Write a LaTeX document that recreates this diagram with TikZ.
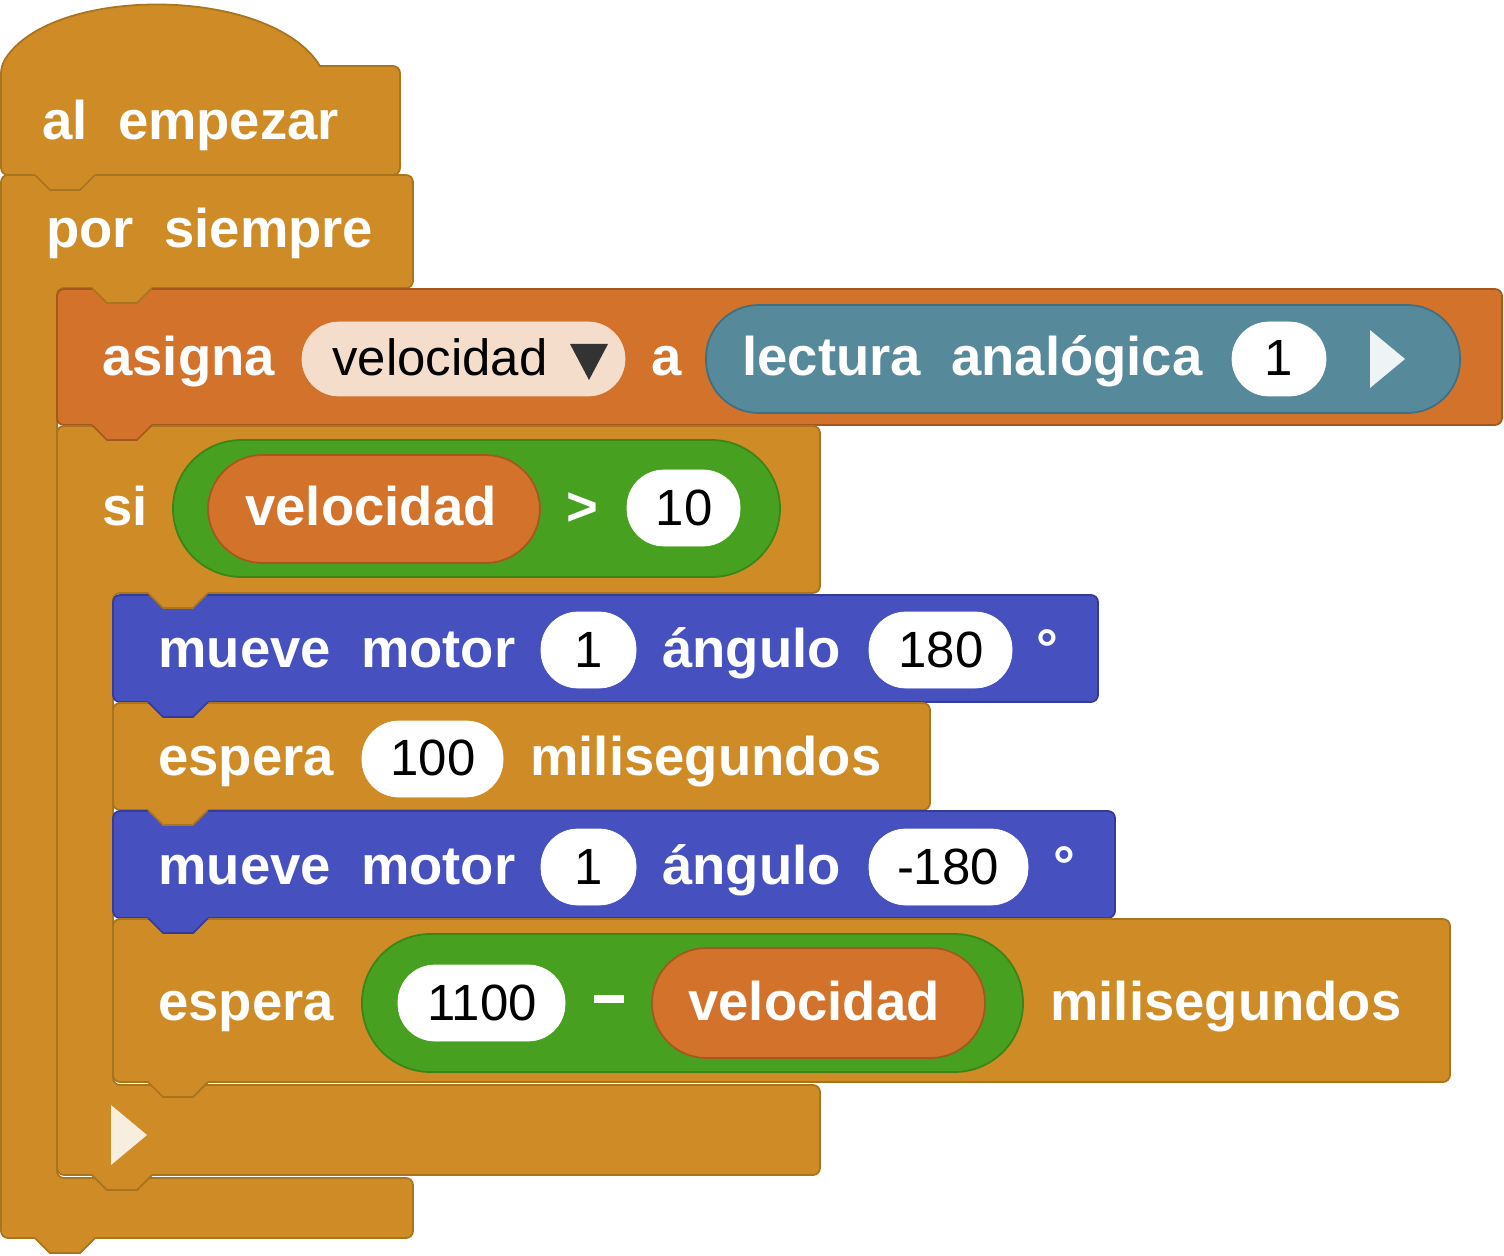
\documentclass[tikz,border=0pt]{standalone}
\usepackage{fontspec}
\setmainfont{Liberation Sans}
\definecolor{gold}{HTML}{CF8B26}\definecolor{goldB}{HTML}{A8741E}
\definecolor{org}{HTML}{D2722B}\definecolor{orgB}{HTML}{A5581E}
\definecolor{blu}{HTML}{4650BE}\definecolor{bluB}{HTML}{333C9A}
\definecolor{grn}{HTML}{48A020}\definecolor{grnB}{HTML}{3B8418}
\definecolor{teal}{HTML}{56899A}\definecolor{tealB}{HTML}{3F6F82}
\definecolor{lpill}{HTML}{F5DDCC}
\tikzset{
 lbl/.style={anchor=base west,inner sep=0pt,text=white,font=\fontsize{31}{31}\selectfont\bfseries},
 val/.style={anchor=base,inner sep=0pt,text=black,font=\fontsize{29}{29}\selectfont},
 blk/.style={line width=1pt,rounded corners=4pt}
}
\newcommand{\bump}[4]{% x y fill border
 \fill[#3] (#1,#2-2) rectangle (#1+60,#2);
 \filldraw[fill=#3,draw=#4,line width=1pt] (#1,#2) -- (#1+15,#2+15) -- (#1+45,#2+15) -- (#1+60,#2);}
\begin{document}
\begin{tikzpicture}[x=0.02cm,y=-0.02cm]
\useasboundingbox (0,0) rectangle (1504,1256);
% por siempre C block
\filldraw[blk,fill=gold,draw=goldB] (1,175) -- (413,175) -- (413,288) -- (57,288) -- (57,1178) -- (413,1178) -- (413,1238) -- (1,1238) -- cycle;
% hat block
\filldraw[blk,fill=gold,draw=goldB] (1,175) -- (1,66) [sharp corners] .. controls (50,-15) and (270,-15) .. (320,66) [rounded corners=4pt] -- (400,66) -- (400,175) -- cycle;
% asigna
\filldraw[blk,fill=org,draw=orgB] (57,289) rectangle (1502,425);
% si C block
\filldraw[blk,fill=gold,draw=goldB] (57,426) -- (820,426) -- (820,593) -- (113,593) -- (113,1085) -- (820,1085) -- (820,1175) -- (57,1175) -- cycle;
% inner blocks
\filldraw[blk,fill=blu,draw=bluB] (113,595) rectangle (1098,702);
\filldraw[blk,fill=gold,draw=goldB] (113,703) rectangle (930,810);
\filldraw[blk,fill=blu,draw=bluB] (113,811) rectangle (1115,918);
\filldraw[blk,fill=gold,draw=goldB] (113,919) rectangle (1450,1082);
% bumps
\bump{35}{175}{gold}{goldB}
\bump{92}{288}{gold}{goldB}
\bump{92}{425}{org}{orgB}
\bump{148}{593}{gold}{goldB}
\bump{148}{702}{blu}{bluB}
\bump{148}{810}{gold}{goldB}
\bump{148}{918}{blu}{bluB}
\bump{148}{1082}{gold}{goldB}
\bump{92}{1175}{gold}{goldB}
\bump{35}{1238}{gold}{goldB}
% texts
\node[lbl] (t1) at (42,140) {al\ \ empezar};
\node[lbl] (t2) at (46,248) {por\ \ siempre};
% asigna row
\node[lbl] (t3) at (102,376) {asigna};
\filldraw[fill=lpill,draw=lpill,rounded corners=21pt] (302,322) rectangle (625,396);
\node[val] (p1) at (440,376) {velocidad};
\fill[black!80] (570,344) -- (608,344) -- (589,380) -- cycle;
\node[lbl] (t4) at (651,376) {a};
\filldraw[fill=teal,draw=tealB,line width=1pt,rounded corners=30pt] (706,305) rectangle (1460,413);
\node[lbl] (t5) at (742,376) {lectura\ \ analógica};
\filldraw[fill=white,draw=white,rounded corners=21pt] (1232,322) rectangle (1326,396);
\node[val] (p2) at (1279,376) {1};
\fill[white!90!teal] (1370,330) -- (1405,359) -- (1370,388) -- cycle;
% si row
\node[lbl] (t6) at (102,525) {si};
\filldraw[fill=grn,draw=grnB,line width=1pt,rounded corners=39pt] (173,440) rectangle (780,577);
\filldraw[fill=org,draw=orgB,line width=1pt,rounded corners=31pt] (208,455) rectangle (540,563);
\node[lbl] (t7) at (245,525) {velocidad};
\node[lbl] (t8) at (566,525) {>};
\filldraw[fill=white,draw=white,rounded corners=21pt] (627,470) rectangle (740,546);
\node[val] (p3) at (684,525) {10};
% mueve 1
\node[lbl] (t9) at (158,667) {mueve\ \ motor};
\filldraw[fill=white,draw=white,rounded corners=21pt] (541,612) rectangle (636,688);
\node[val] (p4) at (589,667) {1};
\node[lbl] (t10) at (662,667) {ángulo};
\filldraw[fill=white,draw=white,rounded corners=21pt] (869,612) rectangle (1012,688);
\node[val] (p5) at (941,667) {180};
\node[lbl] (t11) at (1036,667) {°};
% espera 1
\node[lbl] (t12) at (158,775) {espera};
\filldraw[fill=white,draw=white,rounded corners=21pt] (362,721) rectangle (503,797);
\node[val] (p6) at (433,775) {100};
\node[lbl] (t13) at (530,775) {milisegundos};
% mueve 2
\node[lbl] (t14) at (158,884) {mueve\ \ motor};
\filldraw[fill=white,draw=white,rounded corners=21pt] (541,829) rectangle (636,905);
\node[val] (p7) at (589,884) {1};
\node[lbl] (t15) at (662,884) {ángulo};
\filldraw[fill=white,draw=white,rounded corners=21pt] (869,829) rectangle (1028,905);
\node[val] (p8) at (948,884) {-180};
\node[lbl] (t16) at (1053,884) {°};
% espera 2
\node[lbl] (t17) at (158,1020) {espera};
\filldraw[fill=grn,draw=grnB,line width=1pt,rounded corners=39pt] (362,934) rectangle (1023,1072);
\filldraw[fill=white,draw=white,rounded corners=21pt] (398,965) rectangle (565,1041);
\node[val] (p9) at (482,1020) {1100};
\fill[white] (594,995) rectangle (624,1003);
\filldraw[fill=org,draw=orgB,line width=1pt,rounded corners=31pt] (652,948) rectangle (985,1058);
\node[lbl] (t18) at (688,1020) {velocidad};
\node[lbl] (t19) at (1050,1020) {milisegundos};
% si bottom triangle
\fill[white!85!gold] (111,1105) -- (147,1135) -- (111,1165) -- cycle;
\end{tikzpicture}
\end{document}
